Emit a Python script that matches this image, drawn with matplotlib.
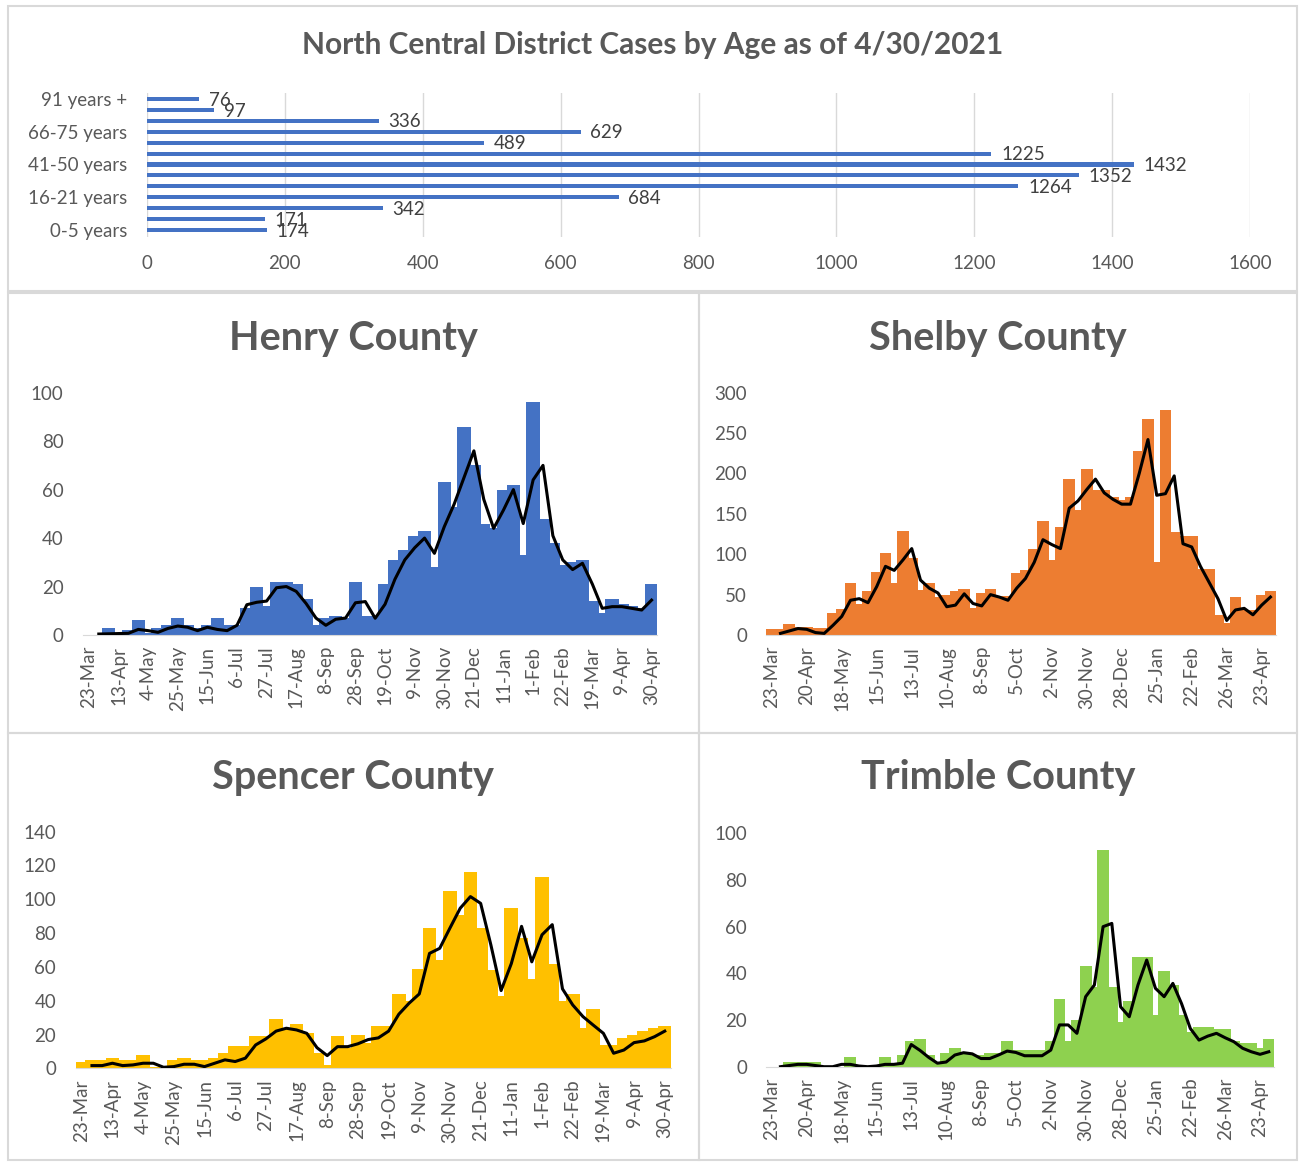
import numpy as np
import matplotlib.pyplot as plt
from matplotlib.patches import Rectangle

plt.rcParams['font.family'] = ['Lato', 'DejaVu Sans']

# ---- data ----
age_groups = ['0-5 years', '6-10 years', '11-15 years', '16-21 years', '22-30 years',
              '31-40 years', '41-50 years', '51-60 years', '61-65 years', '66-75 years',
              '76-80 years', '81-90 years', '91 years +']
age_cases = [174, 171, 342, 684, 1264, 1352, 1432, 1225, 489, 629, 336, 97, 76]

weeks = ['23-Mar', '30-Mar', '6-Apr', '13-Apr', '20-Apr', '27-Apr', '4-May', '11-May', '18-May', '25-May',
         '1-Jun', '8-Jun', '15-Jun', '22-Jun', '29-Jun', '6-Jul', '13-Jul', '20-Jul', '27-Jul', '3-Aug',
         '10-Aug', '17-Aug', '24-Aug', '31-Aug', '8-Sep', '14-Sep', '21-Sep', '28-Sep', '5-Oct', '12-Oct',
         '19-Oct', '26-Oct', '2-Nov', '9-Nov', '16-Nov', '23-Nov', '30-Nov', '7-Dec', '14-Dec', '21-Dec',
         '28-Dec', '4-Jan', '11-Jan', '18-Jan', '25-Jan', '1-Feb', '8-Feb', '15-Feb', '22-Feb', '1-Mar',
         '8-Mar', '19-Mar', '26-Mar', '2-Apr', '9-Apr', '16-Apr', '23-Apr', '30-Apr']

henry = [0, 0, 3, 1, 2, 6, 1, 3, 4, 7, 4, 3, 4, 7, 4, 4, 11, 20, 12, 22,
         22, 21, 15, 4, 7, 8, 7, 22, 8, 8, 21, 31, 35, 41, 43, 28, 63, 53, 86, 70,
         46, 44, 60, 62, 33, 96, 48, 38, 29, 30, 31, 14, 9, 15, 13, 12, 11, 21]
henry_avg = [np.nan, 0.4, 0.5, 0.6, 0.7, 2.3, 1.8, 1.1, 2.7, 3.7, 3.2, 1.8, 3.2, 2.3, 1.8, 4, 12.5, 13.5, 14, 19.5,
             20, 18, 13, 7, 4, 6.5, 7, 13.3, 13.8, 6.9, 12.7, 23, 31, 36, 40, 33.7, 44.7, 54, 65, 76,
             56, 44, 51.6, 60, 46, 64, 70, 41, 31, 27, 29.6, 21, 11, 11.7, 11.7, 11, 10.3, 14.4]

shelby = [8, 8, 14, 10, 10, 9, 9, 27, 32, 65, 39, 54, 78, 102, 65, 129, 95, 56, 65, 47,
          50, 55, 57, 33, 52, 57, 48, 48, 77, 80, 106, 141, 93, 134, 193, 155, 205, 180, 180, 171,
          167, 171, 228, 267, 90, 278, 127, 122, 122, 82, 82, 25, 15, 47, 31, 31, 50, 54]
shelby_avg = [np.nan, 2, 5, 8, 7, 3, 2, 12, 23, 43, 45, 40, 60, 85, 80, 93, 107, 68, 58, 52,
              35, 37, 51, 39, 36, 50, 47, 43, 58, 70, 90, 118, 112, 107, 157, 166, 180, 193, 176, 168,
              162, 162, 200, 242, 173, 175, 197, 113, 109, 85, 65, 45, 18, 31, 33, 25, 37, 47]

spencer = [4, 5, 5, 6, 5, 5, 8, 1, 0, 5, 6, 5, 5, 6, 9, 13, 13, 19, 19, 29,
           24, 26, 21, 9, 2, 19, 12, 20, 15, 25, 25, 44, 40, 59, 83, 64, 105, 91, 116, 83,
           58, 43, 95, 77, 53, 113, 62, 40, 44, 24, 35, 14, 14, 18, 20, 22, 24, 25]
spencer_avg = [np.nan, 1.6, 1.6, 3, 1.6, 2, 3, 3, 0.6, 1, 2.4, 2.4, 1, 3, 5, 4, 6, 13.8, 17.4, 22,
               23.7, 22.7, 20.7, 12.2, 7.5, 12.8, 12.8, 14.5, 17, 18, 22, 32, 38.5, 44, 68, 71, 83, 94.7, 101.6, 97.6,
               73, 46, 62, 84, 63, 79, 85, 47, 37.5, 30.6, 25.6, 20.7, 8.9, 10.8, 15.2, 16.2, 18.7, 22]

trimble = [0, 0, 2, 2, 2, 2, 0, 0, 0, 4, 0, 0, 0, 4, 1, 5, 11, 12, 5, 2,
           6, 8, 6, 5, 5, 6, 6, 11, 7, 7, 7, 7, 11, 29, 11, 20, 43, 34, 93, 34,
           19, 28, 47, 47, 22, 41, 35, 22, 15, 17, 17, 16, 16, 11, 10, 10, 8, 12]
trimble_avg = [np.nan, 0, 0.5, 1, 1, 0.5, 0, 0, 1, 1, 0.3, 0, 0.3, 1, 1, 1.5, 9.5, 7, 4, 1.5,
               2, 5, 6, 5.5, 3.5, 3.5, 5, 6.7, 6.1, 4.7, 4.7, 4.7, 7.1, 17.9, 17.9, 14.3, 30, 35, 60, 61.4,
               25.7, 21.4, 35, 45.7, 33.6, 30, 35.7, 27, 16.4, 11.4, 13.1, 14.3, 12.4, 10.7, 7.9, 6.4, 5.3, 6.4]

W, H = 1299, 1163
TXT = '#595959'
GRID = '#d9d9d9'


def box(x0, y0, x1, y1):
    return [x0 / W, 1 - y1 / H, (x1 - x0) / W, (y1 - y0) / H]


fig = plt.figure(figsize=(W / 100, H / 100), dpi=100, facecolor='white')

# chart frames
for x0, y0, x1, y1 in [(8, 6, 1297, 291), (8, 293, 699, 733), (699, 293, 1297, 733),
                       (8, 733, 699, 1160), (699, 733, 1297, 1160)]:
    fig.add_artist(Rectangle((x0 / W, 1 - y1 / H), (x1 - x0) / W, (y1 - y0) / H,
                             transform=fig.transFigure, fill=False, ec=GRID, lw=1.5))

# ---- top: cases by age ----
ax = fig.add_axes(box(147, 92.5, 1250, 236.5))
ypos = np.arange(len(age_cases))
ax.barh(ypos, age_cases, height=0.38, color='#4472C4', zorder=3)
for y, v in zip(ypos, age_cases):
    ax.text(v + 14, y - 0.1, str(v), va='center', ha='left', fontsize=13.5, color='#404040')
ax.set_xlim(0, 1600)
ax.set_ylim(-0.6, len(age_cases) - 0.4)
ax.set_xticks(range(0, 1601, 200))
ax.set_yticks(ypos[::3])
ax.set_yticklabels(age_groups[::3])
ax.xaxis.grid(True, color=GRID, lw=1)
ax.set_axisbelow(True)
for s in ax.spines.values():
    s.set_visible(False)
ax.tick_params(length=0, labelsize=13.5, labelcolor=TXT)
ax.tick_params(axis='x', pad=13)
ax.tick_params(axis='y', pad=14)
fig.text(653 / W, 1 - 45 / H, 'North Central District Cases by Age as of 4/30/2021',
         ha='center', va='center', fontsize=21.5, fontweight='bold', color=TXT)

# ---- county panels ----
panels = [
    ('Henry County', henry, henry_avg, '#4472C4', 100, 20, 3, (83, 392.7, 657.5, 635), (353, 338)),
    ('Shelby County', shelby, shelby_avg, '#ED7D31', 300, 50, 4, (766.5, 392.7, 1275.7, 635), (998, 338)),
    ('Spencer County', spencer, spencer_avg, '#FFC000', 140, 20, 3, (75.6, 831.7, 670.9, 1068.3), (353, 778)),
    ('Trimble County', trimble, trimble_avg, '#8ED14F', 100, 20, 4, (766.5, 833.3, 1274, 1066.7), (998, 778)),
]

x = np.arange(len(weeks))
for title, vals, avg, col, ymax, ystep, every, pbox, tpos in panels:
    ax = fig.add_axes(box(*pbox))
    ax.bar(x, vals, width=1.35, color=col, lw=0, zorder=2)
    ax.plot(x, avg, color='black', lw=2.2, zorder=3, solid_joinstyle='round')
    ax.set_xlim(-0.6, len(weeks) - 0.4)
    ax.set_ylim(0, ymax)
    ax.set_yticks(range(0, ymax + 1, ystep))
    ax.set_xticks(x[::every])
    ax.set_xticklabels(weeks[::every], rotation=90)
    for k, s in ax.spines.items():
        s.set_visible(k == 'bottom')
    ax.spines['bottom'].set_color(GRID)
    ax.tick_params(length=0, labelsize=13.5, labelcolor=TXT)
    ax.tick_params(axis='y', pad=14)
    ax.tick_params(axis='x', pad=8)
    fig.text(tpos[0] / W, 1 - tpos[1] / H, title, ha='center', va='center',
             fontsize=28.5, fontweight='bold', color=TXT)

fig.savefig('out.png', dpi=100, facecolor='white')
